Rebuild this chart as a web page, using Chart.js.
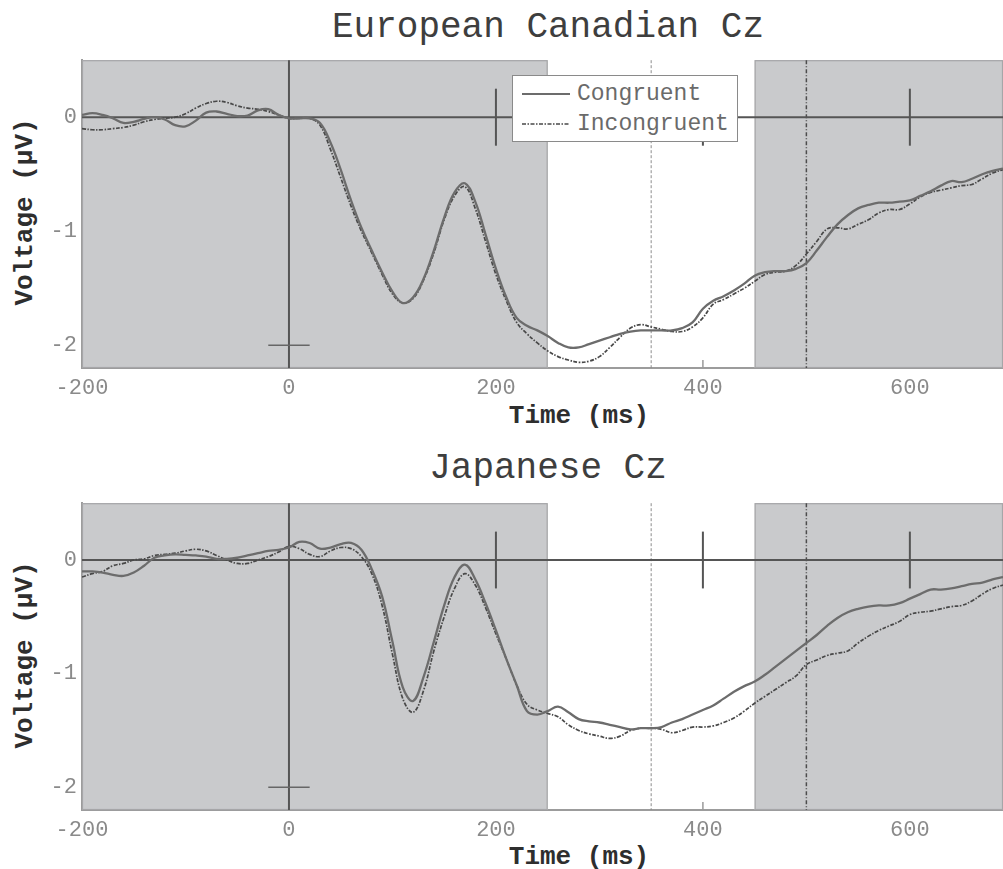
<!DOCTYPE html>
<html>
<head>
<meta charset="utf-8">
<script src="https://cdn.jsdelivr.net/npm/chart.js@4.4.1/dist/chart.umd.min.js"></script>
<style>
  html, body { margin: 0; padding: 0; background: #fff; overflow: hidden; }
  #page { position: relative; width: 1003px; height: 869px; }
  canvas { position: absolute; left: 0; display: block; }
  .txt { position: absolute; white-space: nowrap; font-family: "Liberation Mono", "DejaVu Sans Mono", monospace; line-height: 1; }
  .title { font-size: 36px; color: #3e3e3e; transform: translate(-50%, -50%); }
  .xlab { font-size: 26px; font-weight: bold; color: #2e2e2e; transform: translate(-50%, -50%); }
  .ylab { font-size: 26px; font-weight: bold; color: #2e2e2e; transform: translate(-50%, -50%) rotate(-90deg); }
  .legend { position: absolute; background: #fff; border: 1.5px solid #8a8a8a; box-sizing: border-box;
            font-family: "Liberation Mono", monospace; font-size: 23px; color: #6a6a6a; }
  .legend .row { position: absolute; left: 9px; height: 24px; display: flex; align-items: center; }
  .legend svg { margin-right: 7px; }
</style>
</head>
<body>
<div id="page">
  <div class="txt title" style="left:548px; top:28px;">European Canadian Cz</div>
  <div class="txt title" style="left:548px; top:469px;">Japanese Cz</div>
  <div class="txt ylab" style="left:25px; top:212px;">Voltage (µV)</div>
  <div class="txt ylab" style="left:25px; top:655px;">Voltage (µV)</div>
  <div class="txt xlab" style="left:579px; top:416px;">Time (ms)</div>
  <div class="txt xlab" style="left:579px; top:857px;">Time (ms)</div>
  <canvas id="top" width="1003" height="368" style="top:42px;"></canvas>
  <canvas id="bottom" width="1003" height="368" style="top:485px;"></canvas>
  <div id="legend" class="legend" style="left:512px; top:75px; width:226px; height:67px;"></div>
</div>
<script>
// Time axis (ms) and axis ticks
const times = [-200,-190,-180,-170,-160,-150,-140,-130,-120,-110,-100,-90,-80,-70,-60,-50,-40,-30,-20,-10,
  0,10,20,30,40,50,60,70,80,90,100,110,120,130,140,150,160,170,180,190,
  200,210,220,230,240,250,260,270,280,290,300,310,320,330,340,350,360,370,380,390,
  400,410,420,430,440,450,460,470,480,490,500,510,520,530,540,550,560,570,580,590,
  600,610,620,630,640,650,660,670,680,690];
const xTickValues = [-200, 0, 200, 400, 600];
const yTickValues = [-2, -1, 0];
const seriesNames = ['Congruent', 'Incongruent'];

// European Canadian, Cz (µV)
const euroCongruent = [0.02,0.035,0.02,-0.01,-0.05,-0.04,-0.015,0.0,-0.02,-0.07,-0.08,-0.03,0.04,0.05,0.03,0.01,0.015,0.06,0.07,0.02,
  -0.01,-0.01,-0.01,-0.05,-0.22,-0.46,-0.73,-0.97,-1.17,-1.36,-1.53,-1.63,-1.58,-1.42,-1.17,-0.88,-0.66,-0.58,-0.74,-1.03,
  -1.33,-1.58,-1.76,-1.83,-1.87,-1.92,-1.98,-2.02,-2.02,-1.99,-1.96,-1.93,-1.90,-1.88,-1.87,-1.87,-1.87,-1.87,-1.85,-1.80,
  -1.68,-1.61,-1.57,-1.52,-1.46,-1.39,-1.36,-1.35,-1.35,-1.33,-1.28,-1.17,-1.05,-0.94,-0.86,-0.80,-0.77,-0.75,-0.75,-0.74,
  -0.73,-0.69,-0.65,-0.60,-0.56,-0.57,-0.54,-0.50,-0.47,-0.45];
const euroIncongruent = [-0.10,-0.11,-0.11,-0.10,-0.09,-0.07,-0.04,-0.02,-0.01,0.00,0.03,0.08,0.12,0.14,0.13,0.10,0.08,0.07,0.05,0.02,
  -0.01,-0.01,-0.01,-0.07,-0.28,-0.53,-0.78,-1.00,-1.19,-1.38,-1.55,-1.63,-1.59,-1.43,-1.19,-0.90,-0.69,-0.61,-0.80,-1.09,
  -1.38,-1.61,-1.80,-1.90,-1.98,-2.05,-2.10,-2.13,-2.15,-2.14,-2.10,-2.02,-1.93,-1.85,-1.82,-1.84,-1.86,-1.88,-1.88,-1.84,
  -1.76,-1.64,-1.60,-1.55,-1.50,-1.44,-1.38,-1.36,-1.35,-1.30,-1.20,-1.09,-0.98,-0.97,-0.98,-0.94,-0.90,-0.84,-0.81,-0.81,
  -0.76,-0.70,-0.66,-0.64,-0.62,-0.60,-0.59,-0.54,-0.49,-0.46];

// Japanese, Cz (µV)
const japanCongruent = [-0.10,-0.10,-0.11,-0.13,-0.14,-0.11,-0.05,0.02,0.04,0.05,0.045,0.04,0.03,0.01,0.01,0.02,0.04,0.06,0.08,0.09,
  0.11,0.16,0.15,0.10,0.11,0.14,0.15,0.09,-0.08,-0.32,-0.72,-1.12,-1.24,-1.03,-0.72,-0.40,-0.15,-0.04,-0.17,-0.38,
  -0.62,-0.87,-1.10,-1.33,-1.36,-1.33,-1.29,-1.34,-1.40,-1.42,-1.43,-1.45,-1.47,-1.49,-1.48,-1.48,-1.47,-1.43,-1.40,-1.36,
  -1.32,-1.28,-1.22,-1.16,-1.11,-1.07,-1.01,-0.94,-0.87,-0.80,-0.73,-0.66,-0.58,-0.51,-0.46,-0.43,-0.41,-0.40,-0.40,-0.38,
  -0.34,-0.30,-0.26,-0.26,-0.25,-0.23,-0.21,-0.20,-0.17,-0.15];
const japanIncongruent = [-0.15,-0.12,-0.10,-0.05,-0.03,0.00,0.01,0.04,0.05,0.06,0.08,0.095,0.08,0.04,0.00,-0.03,-0.03,0.00,0.03,0.07,
  0.12,0.10,0.05,0.03,0.08,0.11,0.10,0.03,-0.12,-0.40,-0.83,-1.22,-1.34,-1.15,-0.80,-0.50,-0.25,-0.12,-0.22,-0.42,
  -0.65,-0.87,-1.10,-1.27,-1.32,-1.35,-1.38,-1.45,-1.50,-1.53,-1.55,-1.57,-1.55,-1.50,-1.48,-1.48,-1.49,-1.52,-1.50,-1.47,
  -1.47,-1.46,-1.43,-1.39,-1.33,-1.26,-1.20,-1.14,-1.08,-1.02,-0.92,-0.88,-0.84,-0.82,-0.80,-0.73,-0.67,-0.62,-0.58,-0.54,
  -0.48,-0.46,-0.45,-0.43,-0.41,-0.40,-0.36,-0.30,-0.25,-0.22];

// Analysis windows and reference marks (ms)
const shadedWindows = [[-200, 250], [450, 690]];
const scaleMarkTimes = [200, 400, 600];

const lineStyles = [
  { color: '#6c6c6c', width: 2.3, dash: [] },
  { color: '#484848', width: 1.7, dash: [4, 1.5, 1.5, 1.5] }
];

const erpMarks = {
  id: 'erpMarks',
  beforeDatasetsDraw(chart) {
    const { ctx, chartArea: a, scales: { x, y } } = chart;
    const seg = (x0, y0, x1, y1) => { ctx.beginPath(); ctx.moveTo(x0, y0); ctx.lineTo(x1, y1); ctx.stroke(); };
    ctx.save();
    // inward tick marks on the time axis
    ctx.strokeStyle = '#9a9a9a'; ctx.lineWidth = 1.5;
    xTickValues.forEach(t => { const px = x.getPixelForValue(t); seg(px, a.bottom, px, a.bottom - 8); });
    // shaded analysis windows
    shadedWindows.forEach(([t0, t1]) => {
      const x0 = x.getPixelForValue(t0), x1 = x.getPixelForValue(t1);
      ctx.fillStyle = '#c9cacc';
      ctx.fillRect(x0, a.top, x1 - x0, a.bottom - a.top);
      ctx.strokeStyle = '#a6a6a8'; ctx.lineWidth = 1.2;
      ctx.strokeRect(x0 + 0.5, a.top + 0.5, x1 - x0 - 1, a.bottom - a.top - 1);
    });
    // dashed reference lines at 350 and 500 ms
    ctx.setLineDash([3, 2]); ctx.strokeStyle = '#8c8c8c'; ctx.lineWidth = 1;
    let px = x.getPixelForValue(350); seg(px, a.top, px, a.bottom);
    ctx.setLineDash([4, 2, 1, 2]); ctx.strokeStyle = '#4c4c4c'; ctx.lineWidth = 1.5;
    px = x.getPixelForValue(500); seg(px, a.top, px, a.bottom);
    ctx.setLineDash([]);
    // zero-voltage line and stimulus onset
    ctx.strokeStyle = '#555'; ctx.lineWidth = 2;
    const y0 = y.getPixelForValue(0);
    seg(a.left, y0, a.right, y0);
    px = x.getPixelForValue(0); seg(px, a.top, px, a.bottom);
    // short calibration marks
    scaleMarkTimes.forEach(t => {
      const p = x.getPixelForValue(t);
      seg(p, y.getPixelForValue(0.25), p, y.getPixelForValue(-0.25));
    });
    ctx.strokeStyle = '#666'; ctx.lineWidth = 1.5;
    const yc = y.getPixelForValue(-2);
    seg(x.getPixelForValue(-20), yc, x.getPixelForValue(20), yc);
    ctx.restore();
  }
};

function makePanel(canvasId, congruent, incongruent, xAxisHeight) {
  const datasets = [congruent, incongruent].map((vals, i) => ({
    label: seriesNames[i],
    data: times.map((t, k) => ({ x: t, y: vals[k] })),
    borderColor: lineStyles[i].color,
    borderWidth: lineStyles[i].width,
    borderDash: lineStyles[i].dash,
    pointRadius: 0,
    tension: 0.4,
    fill: false
  }));
  const tickFont = { family: 'Liberation Mono', size: 22 };
  return new Chart(document.getElementById(canvasId), {
    type: 'line',
    data: { datasets },
    plugins: [erpMarks],
    options: {
      responsive: false,
      animation: false,
      devicePixelRatio: 1,
      layout: { padding: { top: 10, right: 0, left: 0, bottom: 0 } },
      plugins: { legend: { display: false }, tooltip: { enabled: false }, title: { display: false } },
      scales: {
        x: {
          type: 'linear', min: -200, max: 690,
          afterBuildTicks: s => { s.ticks = xTickValues.map(v => ({ value: v })); },
          afterFit: s => { s.height = xAxisHeight; },
          ticks: { font: tickFont, color: '#8a8a8a', padding: 7, maxRotation: 0, autoSkip: false },
          grid: { display: false, drawTicks: false },
          border: { display: true, color: '#9c9c9c', width: 2 }
        },
        y: {
          min: -2.2, max: 0.5,
          afterBuildTicks: s => { s.ticks = yTickValues.map(v => ({ value: v })); },
          afterFit: s => { s.width = 82; },
          ticks: { font: tickFont, color: '#8a8a8a', padding: 5 },
          grid: { display: false, drawTicks: false },
          border: { display: true, color: '#9c9c9c', width: 2 }
        }
      }
    }
  });
}

makePanel('top', euroCongruent, euroIncongruent, 42);
makePanel('bottom', japanCongruent, japanIncongruent, 43);

// legend box for the upper panel
const legend = document.getElementById('legend');
seriesNames.forEach((name, i) => {
  const row = document.createElement('div');
  row.className = 'row';
  row.style.top = (i === 0 ? 6 : 36) + 'px';
  const s = lineStyles[i];
  row.innerHTML = '<svg width="48" height="6"><line x1="0" y1="3" x2="48" y2="3" stroke="' + s.color +
    '" stroke-width="' + Math.min(s.width, 1.8) + '" stroke-dasharray="' + (s.dash.length ? s.dash.join(' ') : 'none') +
    '"/></svg><span>' + name + '</span>';
  legend.appendChild(row);
});
</script>
</body>
</html>
